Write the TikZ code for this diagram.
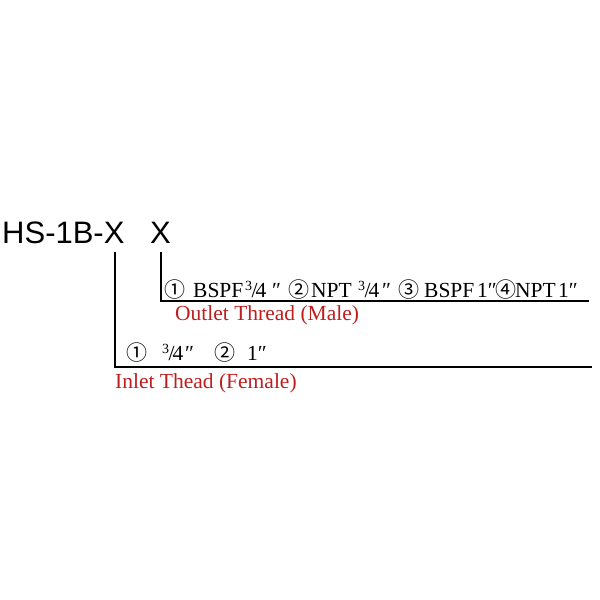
\documentclass[tikz,border=0pt]{standalone}
\usepackage{fontspec}
\setmainfont{Liberation Serif}
\newfontfamily\titlefont{Liberation Sans}
\newfontfamily\circfont{Noto Sans CJK SC}
\definecolor{labelred}{RGB}{190,30,30}
\tikzset{
  title/.style={font=\titlefont\fontsize{31}{31}\selectfont, inner sep=0pt, anchor=base west},
  spec/.style={font=\fontsize{21.5}{21.5}\selectfont, inner sep=0pt, anchor=base west},
  redlabel/.style={font=\fontsize{21.5}{21.5}\selectfont, text=labelred, inner sep=0pt, anchor=base west},
  leader/.style={draw=black, line width=1.2pt}
}
\newcommand{\cn}[1]{{\circfont\fontsize{21}{21}\selectfont #1}}
\newcommand{\tq}{\raisebox{0.28em}{\fontsize{14}{14}\selectfont 3}\kern-0.5pt/\kern-2pt 4}
\newcommand{\bx}[2]{\makebox[#1pt][l]{#2}}
\begin{document}
\begin{tikzpicture}[x=1pt,y=-1pt]
\useasboundingbox (0,0) rectangle (600,600);
\node[title] (model) at (2,243) {HS-1B-X};
\node[title] (x2) at (150,243) {X};
\coordinate (x1) at (115,252);
\coordinate (x2b) at (161,252);
\coordinate (c1) at (115,367);
\coordinate (e1) at (592,367);
\coordinate (c2) at (161,301);
\coordinate (e2) at (589,301);
\draw[leader] (x1) -- (c1) -- (e1);
\draw[leader] (x2b) -- (c2) -- (e2);
\node[spec] (outspec) at (164,297) {\bx{29}{\cn{①}}\bx{52}{BSPF}\bx{27}{\tq}\bx{16}{″}\bx{23}{\cn{②}}\bx{47}{NPT}\bx{24}{\tq}\bx{16}{″}\bx{26}{\cn{③}}\bx{53}{BSPF}\bx{18}{1″}\bx{20}{\cn{④}}\bx{43}{NPT}1″};
\node[redlabel] (outlbl) at (175,320) {Outlet Thread (Male)};
\node[spec] (inspec) at (126,360) {\bx{36}{\cn{①}}\bx{23}{\tq}\bx{29}{″}\bx{33}{\cn{②}}1″};
\node[redlabel] (inlbl) at (115,388) {Inlet Thead (Female)};
\end{tikzpicture}
\end{document}
